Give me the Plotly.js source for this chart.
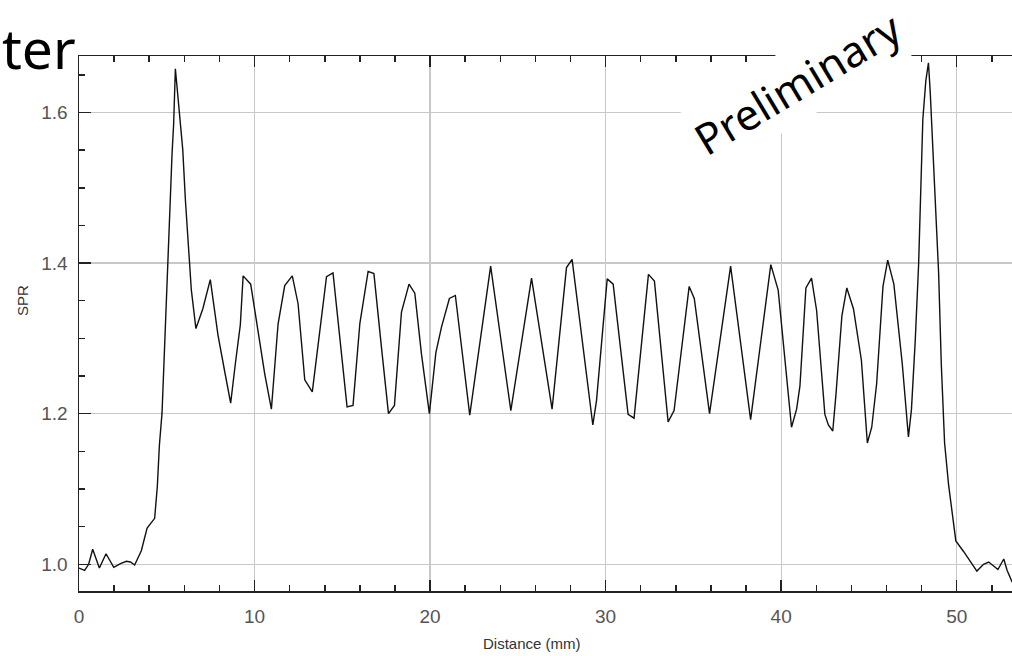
<!DOCTYPE html>
<html>
<head>
<meta charset="utf-8">
<script src="https://cdn.plot.ly/plotly-3.0.1.min.js"></script>
<style>html,body{margin:0;padding:0;background:#fff;overflow:hidden}#chart{width:1012px;height:656px}</style>
</head>
<body>
<div id="chart"></div>
<script>
const distanceMm = [
  0.00,0.32,0.55,0.78,1.16,1.54,1.98,2.36,2.70,2.93,3.17,3.55,3.88,4.31,4.46,4.58,4.73,4.82,4.92,5.01,
  5.11,5.20,5.30,5.39,5.49,5.58,5.72,5.91,6.06,6.19,6.29,6.40,6.66,7.05,7.48,7.92,8.30,8.64,8.91,9.19,
  9.35,9.78,10.05,10.33,10.58,10.96,11.34,11.72,12.15,12.48,12.86,13.29,13.72,14.10,14.47,14.95,15.27,15.61,16.00,16.47,
  16.80,17.23,17.63,17.97,18.37,18.80,19.13,19.51,19.96,20.33,20.65,21.10,21.44,22.26,23.45,24.60,25.78,26.95,27.77,28.09,
  29.27,29.48,30.09,30.43,31.28,31.62,32.44,32.78,33.56,33.90,34.76,35.05,35.92,37.12,38.26,39.41,39.83,40.59,40.88,41.07,
  41.41,41.73,42.02,42.49,42.69,42.94,43.12,43.46,43.74,44.12,44.57,44.91,45.16,45.44,45.80,46.07,46.42,46.90,47.13,47.25,
  47.42,47.64,47.83,47.94,48.07,48.24,48.39,48.49,48.64,48.77,48.97,49.12,49.31,49.54,49.77,49.95,50.39,50.77,51.15,51.53,
  51.82,52.35,52.68,52.87,53.16
];
const sprValues = [
  0.995,0.992,1.000,1.020,0.995,1.014,0.996,1.001,1.004,1.003,0.999,1.018,1.048,1.061,1.103,1.158,1.201,1.260,1.316,1.374,
  1.431,1.484,1.545,1.584,1.658,1.637,1.600,1.551,1.484,1.443,1.399,1.364,1.313,1.339,1.378,1.304,1.256,1.214,1.267,1.318,
  1.383,1.372,1.332,1.290,1.253,1.206,1.319,1.370,1.383,1.346,1.245,1.229,1.312,1.382,1.387,1.284,1.209,1.211,1.320,1.389,
  1.386,1.288,1.200,1.211,1.335,1.372,1.360,1.279,1.200,1.281,1.315,1.353,1.357,1.198,1.396,1.204,1.380,1.206,1.394,1.405,
  1.185,1.217,1.379,1.372,1.199,1.194,1.385,1.376,1.189,1.204,1.369,1.353,1.200,1.396,1.192,1.398,1.364,1.182,1.206,1.237,
  1.367,1.380,1.337,1.199,1.185,1.177,1.225,1.330,1.367,1.339,1.271,1.161,1.182,1.240,1.369,1.404,1.372,1.266,1.205,1.169,
  1.205,1.298,1.398,1.498,1.591,1.642,1.666,1.628,1.558,1.480,1.387,1.267,1.161,1.105,1.064,1.031,1.017,1.004,0.991,1.000,
  1.003,0.993,1.007,0.992,0.976
];
const xTitle = "Distance (mm)";
const yTitle = "SPR";
const cornerText = "ter";
const stampText = "Preliminary";

const axisCommon = {
  showline: true, linecolor: '#222', linewidth: 1.5,
  ticks: 'inside', tickcolor: '#222', tickwidth: 1.5,
  showgrid: true, gridcolor: '#c8c8c8', gridwidth: 1.3,
  zeroline: false,
  tickfont: {family: 'Liberation Sans, Arial, sans-serif', size: 19, color: '#555'}
};

const layout = {
  width: 1012, height: 656,
  margin: {l: 79, r: 0, t: 56, b: 65, pad: 0},
  paper_bgcolor: '#fff', plot_bgcolor: '#fff',
  showlegend: false,
  xaxis: Object.assign({}, axisCommon, {
    range: [0, 53.15], tickmode: 'linear', tick0: 0, dtick: 10,
    ticklen: 11, mirror: 'allticks', ticklabelstandoff: 8,
    minor: {tick0: 0, dtick: 2, ticks: 'inside', ticklen: 6, tickcolor: '#222', tickwidth: 1.5, showgrid: false}
  }),
  yaxis: Object.assign({}, axisCommon, {
    range: [0.9645, 1.675], tickmode: 'linear', tick0: 1.0, dtick: 0.2,
    tickformat: '.1f', ticklen: 12, mirror: false, ticklabelstandoff: 6,
    minor: {tick0: 1.0, dtick: 0.05, ticks: 'inside', ticklen: 6, tickcolor: '#222', tickwidth: 1.5, showgrid: false}
  }),
  annotations: [
    {xref: 'paper', yref: 'paper', x: (532 - 79) / 933, y: (591 - 643) / 535, text: xTitle,
     showarrow: false, xanchor: 'center', yanchor: 'middle',
     font: {family: 'Liberation Sans, Arial, sans-serif', size: 15, color: '#333'}},
    {xref: 'paper', yref: 'paper', x: (22 - 79) / 933, y: (591 - 301) / 535, text: yTitle,
     showarrow: false, xanchor: 'center', yanchor: 'middle', textangle: -90,
     font: {family: 'Liberation Sans, Arial, sans-serif', size: 15, color: '#333'}},
    {xref: 'paper', yref: 'paper', x: (78 - 79) / 933, y: (591 - 47) / 535, text: cornerText,
     showarrow: false, xanchor: 'right', yanchor: 'middle',
     font: {family: 'Noto Sans, sans-serif', size: 55, color: '#000'}},
    {xref: 'paper', yref: 'paper', x: (797 - 79) / 933, y: (591 - 84) / 535, text: stampText,
     showarrow: false, xanchor: 'center', yanchor: 'middle', textangle: -31,
     bgcolor: '#fff', borderpad: 5,
     font: {family: 'Noto Sans, sans-serif', size: 43, color: '#000'}}
  ]
};

const trace = {
  x: distanceMm, y: sprValues, type: 'scatter', mode: 'lines',
  line: {color: '#111', width: 1.4}, hoverinfo: 'skip'
};

Plotly.newPlot('chart', [trace], layout, {displayModeBar: false, staticPlot: true});
</script>
</body>
</html>
